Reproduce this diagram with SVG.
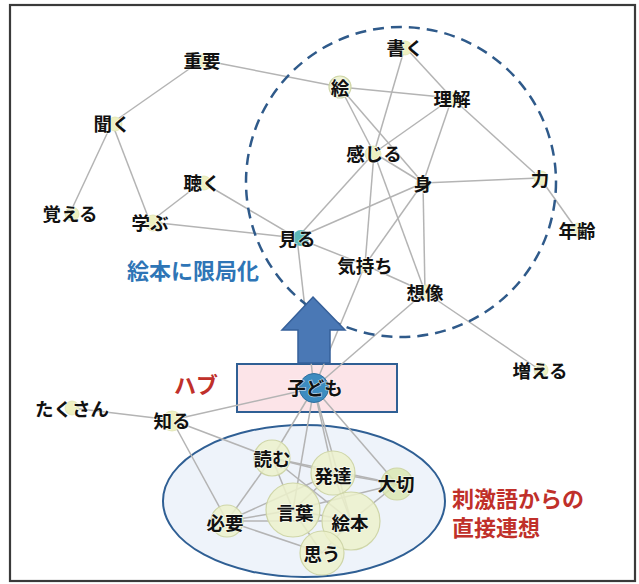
<svg xmlns="http://www.w3.org/2000/svg" width="639" height="584" viewBox="0 0 639 584">
<style>
.lbl{font-family:"Noto Sans CJK JP","Noto Sans",sans-serif;font-weight:bold;font-size:18.5px;fill:#111;text-anchor:middle;dominant-baseline:central;paint-order:stroke;stroke:#fff;stroke-width:1.5px;stroke-opacity:0.6}
.ann{font-family:"Noto Sans CJK JP","Noto Sans",sans-serif;font-weight:bold;font-size:22px}
.e line{stroke:#b4b4b4;stroke-width:1.5}
.dot{fill:#eef0c0;stroke:#e0e3b2;stroke-width:0.8}
.big{fill:#ecf1cb;fill-opacity:0.85;stroke:#cfd6a8;stroke-width:1.2}
</style>
<rect x="0" y="0" width="639" height="584" fill="#fff"/>
<rect x="10" y="5" width="625" height="576" fill="#fff" stroke="#3a3a3a" stroke-width="2.2"/>
<ellipse id="stimulus-area" cx="304" cy="501" rx="141" ry="76" fill="#eef3fa" stroke="#2f5f94" stroke-width="2"/>
<rect id="hub-box" x="237" y="364" width="160" height="48" fill="#fce4e8" stroke="#2f5f94" stroke-width="2"/>
<g id="connectors" class="e">
<line x1="202" y1="60" x2="112" y2="123"/>
<line x1="202" y1="60" x2="340" y2="87"/>
<line x1="112" y1="123" x2="70" y2="213"/>
<line x1="112" y1="123" x2="150" y2="222"/>
<line x1="202" y1="182" x2="150" y2="222"/>
<line x1="202" y1="182" x2="297" y2="238"/>
<line x1="150" y1="222" x2="297" y2="238"/>
<line x1="297" y1="238" x2="374" y2="153"/>
<line x1="297" y1="238" x2="423" y2="183"/>
<line x1="297" y1="238" x2="365" y2="265"/>
<line x1="297" y1="238" x2="314" y2="388"/>
<line x1="405" y1="47" x2="374" y2="153"/>
<line x1="405" y1="47" x2="452" y2="98"/>
<line x1="340" y1="87" x2="452" y2="98"/>
<line x1="340" y1="87" x2="374" y2="153"/>
<line x1="340" y1="87" x2="423" y2="183"/>
<line x1="452" y1="98" x2="374" y2="153"/>
<line x1="452" y1="98" x2="423" y2="183"/>
<line x1="452" y1="98" x2="540" y2="178"/>
<line x1="374" y1="153" x2="423" y2="183"/>
<line x1="374" y1="153" x2="365" y2="265"/>
<line x1="374" y1="153" x2="425" y2="292"/>
<line x1="423" y1="183" x2="540" y2="178"/>
<line x1="423" y1="183" x2="365" y2="265"/>
<line x1="423" y1="183" x2="425" y2="292"/>
<line x1="540" y1="178" x2="577" y2="230"/>
<line x1="365" y1="265" x2="425" y2="292"/>
<line x1="365" y1="265" x2="314" y2="388"/>
<line x1="425" y1="292" x2="314" y2="388"/>
<line x1="425" y1="292" x2="540" y2="370"/>
<line x1="314" y1="388" x2="172" y2="420"/>
<line x1="172" y1="420" x2="72" y2="408"/>
<line x1="172" y1="420" x2="272" y2="458"/>
<line x1="172" y1="420" x2="227" y2="521"/>
<line x1="314" y1="388" x2="272" y2="458"/>
<line x1="314" y1="388" x2="293" y2="510"/>
<line x1="314" y1="388" x2="333" y2="473"/>
<line x1="314" y1="388" x2="351" y2="521"/>
<line x1="314" y1="388" x2="397" y2="484"/>
<line x1="272" y1="458" x2="333" y2="473"/>
<line x1="272" y1="458" x2="397" y2="484"/>
<line x1="272" y1="458" x2="293" y2="510"/>
<line x1="272" y1="458" x2="351" y2="521"/>
<line x1="272" y1="458" x2="227" y2="521"/>
<line x1="333" y1="473" x2="397" y2="484"/>
<line x1="333" y1="473" x2="293" y2="510"/>
<line x1="333" y1="473" x2="351" y2="521"/>
<line x1="397" y1="484" x2="351" y2="521"/>
<line x1="397" y1="484" x2="293" y2="510"/>
<line x1="227" y1="521" x2="333" y2="473"/>
<line x1="227" y1="521" x2="293" y2="510"/>
<line x1="227" y1="521" x2="351" y2="521"/>
<line x1="227" y1="521" x2="322" y2="553"/>
<line x1="293" y1="510" x2="351" y2="521"/>
<line x1="293" y1="510" x2="322" y2="553"/>
<line x1="351" y1="521" x2="322" y2="553"/>
</g>
<circle id="scope-circle" cx="401" cy="182" r="155" fill="none" stroke="#2f5a8a" stroke-width="2.5" stroke-dasharray="11 7"/>
<polygon id="arrow" points="313,297 345,330 330,330 330,363 298,363 298,330 282,330" fill="#4a78b5" stroke="#36609a" stroke-width="1.5"/>
<g id="n-juuyou"><circle class="dot" cx="203" cy="61" r="7"/><text class="lbl" x="202" y="60">重要</text></g>
<g id="n-kiku"><circle class="dot" cx="115" cy="124" r="7"/><text class="lbl" x="112" y="123">聞く</text></g>
<g id="n-oboeru"><circle class="dot" cx="72" cy="214" r="7"/><text class="lbl" x="70" y="213">覚える</text></g>
<g id="n-manabu"><circle class="dot" cx="153" cy="223" r="8" fill="#dfeabf"/><text class="lbl" x="150" y="222">学ぶ</text></g>
<g id="n-kiku2"><circle class="dot" cx="204" cy="183" r="7"/><text class="lbl" x="202" y="182">聴く</text></g>
<g id="n-miru"><circle cx="301" cy="238" r="8" fill="#5cb8b8"/><text class="lbl" x="297" y="238">見る</text></g>
<g id="n-kaku"><circle class="dot" cx="405" cy="48" r="7"/><text class="lbl" x="405" y="47">書く</text></g>
<g id="n-e"><circle class="big" cx="340" cy="87" r="11"/><text class="lbl" x="340" y="87">絵</text></g>
<g id="n-rikai"><circle class="dot" cx="452" cy="99" r="7"/><text class="lbl" x="452" y="98">理解</text></g>
<g id="n-kanjiru"><circle class="dot" cx="373" cy="154" r="8" fill="#e3eab0"/><text class="lbl" x="374" y="153">感じる</text></g>
<g id="n-mi"><circle class="dot" cx="423" cy="184" r="7"/><text class="lbl" x="423" y="183">身</text></g>
<g id="n-chikara"><circle class="dot" cx="541" cy="178" r="7"/><text class="lbl" x="540" y="178">力</text></g>
<g id="n-nenrei"><circle class="dot" cx="578" cy="230" r="7"/><text class="lbl" x="577" y="230">年齢</text></g>
<g id="n-kimochi"><circle class="dot" cx="366" cy="266" r="7"/><text class="lbl" x="365" y="265">気持ち</text></g>
<g id="n-souzou"><circle class="dot" cx="427" cy="292" r="7" fill="#dbe8b0"/><text class="lbl" x="425" y="292">想像</text></g>
<g id="n-fueru"><circle class="dot" cx="541" cy="370" r="7"/><text class="lbl" x="540" y="370">増える</text></g>
<g id="n-takusan"><circle class="dot" cx="72" cy="408" r="7"/><text class="lbl" x="72" y="408">たくさん</text></g>
<g id="n-shiru"><circle class="dot" cx="172" cy="421" r="10"/><text class="lbl" x="172" y="420">知る</text></g>
<g id="n-yomu"><circle class="big" cx="272" cy="458" r="18"/><text class="lbl" x="272" y="458">読む</text></g>
<g id="n-hattatsu"><circle class="big" cx="333" cy="473" r="22"/><text class="lbl" x="333" y="475">発達</text></g>
<g id="n-taisetsu"><circle class="big" cx="397" cy="484" r="16" style="fill:#dbe8b2"/><text class="lbl" x="396" y="483">大切</text></g>
<g id="n-kotoba"><circle class="big" cx="293" cy="510" r="27"/><text class="lbl" x="295" y="512">言葉</text></g>
<g id="n-ehon"><circle class="big" cx="351" cy="521" r="29"/><text class="lbl" x="350" y="522">絵本</text></g>
<g id="n-hitsuyou"><circle class="big" cx="227" cy="521" r="16"/><text class="lbl" x="225" y="522">必要</text></g>
<g id="n-omou"><circle class="big" cx="322" cy="553" r="22"/><text class="lbl" x="322" y="553">思う</text></g>
<g id="n-kodomo"><circle cx="314" cy="388" r="14.5" fill="#3d8cc0" stroke="#2f6f9e" stroke-width="1"/><text class="lbl" x="315" y="387">子ども</text></g>
<text class="ann" x="193" y="269" fill="#2e75b6" text-anchor="middle" dominant-baseline="central" font-size="24">絵本に限局化</text>
<text class="ann" x="196" y="383" fill="#c0302a" text-anchor="middle" dominant-baseline="central">ハブ</text>
<text class="ann" fill="#c0302a" dominant-baseline="central"><tspan x="452" y="497">刺激語からの</tspan><tspan x="452" y="526">直接連想</tspan></text>
</svg>
